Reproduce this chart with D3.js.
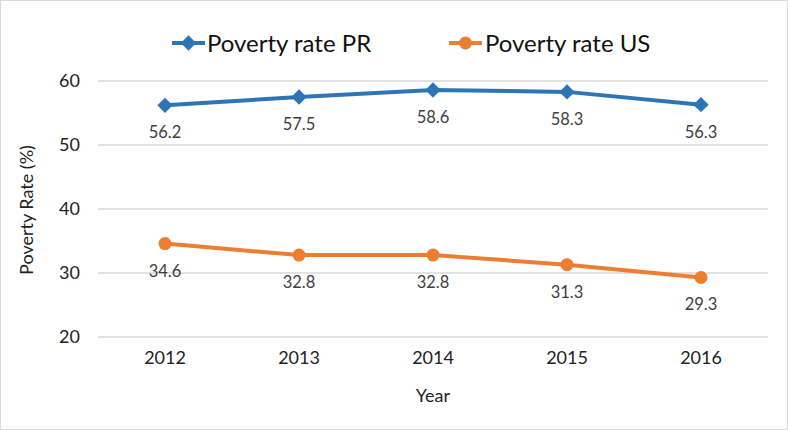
<!DOCTYPE html>
<html><head><meta charset="utf-8">
<script src="https://cdn.jsdelivr.net/npm/d3@7"></script>
<style>body{margin:0;background:#fff}svg{display:block}</style>
</head><body><svg id="c" width="788" height="430"></svg>
<script>
const years = ["2012","2013","2014","2015","2016"];
const povertyPR = [56.2, 57.5, 58.6, 58.3, 56.3];
const povertyUS = [34.6, 32.8, 32.8, 31.3, 29.3];
const yTicks = [20, 30, 40, 50, 60];
const seriesNames = ["Poverty rate PR", "Poverty rate US"];

const svg = d3.select("#c");
const font = "Lato, 'Open Sans', sans-serif";
svg.append("rect").attr("x",0.5).attr("y",0.5).attr("width",787).attr("height",429)
  .attr("fill","#fff").attr("stroke","#d9d9d9");

const x = d3.scaleBand().domain(years).range([98, 768]);
const y = d3.scaleLinear().domain([20, 60]).range([337, 81]);

// gridlines
svg.append("g").selectAll("line").data(yTicks).join("line")
  .attr("x1",98).attr("x2",768).attr("y1",d=>y(d)).attr("y2",d=>y(d))
  .attr("stroke","#d9d9d9").attr("stroke-width",1.3);

// y axis
const ya = svg.append("g").attr("transform","translate(80,0)")
  .call(d3.axisLeft(y).tickValues(yTicks).tickSize(0).tickPadding(0));
ya.select(".domain").remove();
ya.selectAll("text").attr("font-family",font).attr("font-size",18).attr("fill","#222");

// x axis
const xa = svg.append("g").attr("transform","translate(0,351)")
  .call(d3.axisBottom(x).tickSize(0).tickPadding(0));
xa.select(".domain").remove();
xa.selectAll("text").attr("font-family",font).attr("font-size",18).attr("fill","#222");

svg.append("text").attr("x",433).attr("y",402).attr("text-anchor","middle")
  .attr("font-family",font).attr("font-size",18).attr("fill","#222").text("Year");
svg.append("text").attr("transform","translate(33,210) rotate(-90)").attr("text-anchor","middle")
  .attr("font-family",font).attr("font-size",18).attr("fill","#222").text("Poverty Rate (%)");

const colors = ["#2E75B6", "#ED7D31"];
const data = [povertyPR, povertyUS];
const cx = d => x(d) + x.bandwidth()/2;
const line = d3.line().x((d,i)=>cx(years[i])).y(d=>y(d));

data.forEach((vals, s) => {
  svg.append("path").datum(vals).attr("d", line).attr("fill","none")
    .attr("stroke", colors[s]).attr("stroke-width",4).attr("stroke-linejoin","round");
  const g = svg.append("g");
  vals.forEach((v, i) => {
    const px = cx(years[i]), py = y(v);
    if (s === 0) {
      g.append("path").attr("d", d3.symbol(d3.symbolDiamond2, 150)()).attr("transform",`translate(${px},${py})`)
        .attr("fill", colors[s]);
    } else {
      g.append("circle").attr("cx",px).attr("cy",py).attr("r",6.5).attr("fill",colors[s]);
    }
    svg.append("text").attr("x",px).attr("y",py+33).attr("text-anchor","middle")
      .attr("font-family",font).attr("font-size",16.5).attr("fill","#404040").text(v.toFixed(1));
  });
});

// legend
const leg = [{x:172, tx:207}, {x:449, tx:485}];
seriesNames.forEach((n, s) => {
  const g = svg.append("g");
  g.append("line").attr("x1",leg[s].x).attr("x2",leg[s].x+33).attr("y1",43).attr("y2",43)
    .attr("stroke",colors[s]).attr("stroke-width",4);
  if (s===0) g.append("path").attr("d", d3.symbol(d3.symbolDiamond2, 150)()).attr("transform",`translate(${leg[s].x+16.5},43)`).attr("fill",colors[s]);
  else g.append("circle").attr("cx",leg[s].x+16.5).attr("cy",43).attr("r",6.5).attr("fill",colors[s]);
  g.append("text").attr("x",leg[s].tx).attr("y",52).attr("font-family",font).attr("font-size",24)
    .attr("fill","#111").text(n);
});
</script></body></html>
